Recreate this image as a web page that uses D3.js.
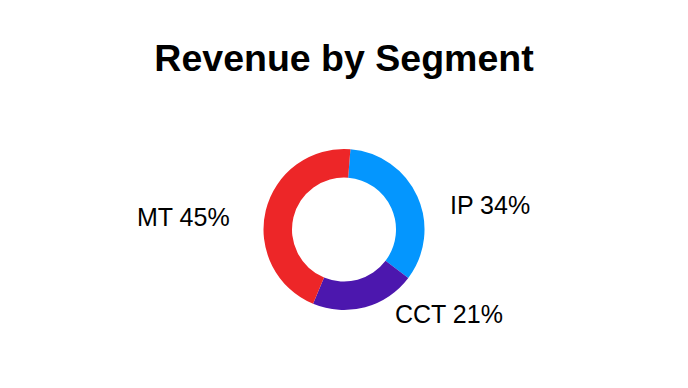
<!DOCTYPE html>
<html>
<head>
<meta charset="utf-8">
<script src="https://cdn.jsdelivr.net/npm/d3@7"></script>
<style>
  body { margin: 0; background: #fff; }
  svg { display: block; font-family: "Liberation Sans", Arial, sans-serif; }
</style>
</head>
<body>
<svg width="688" height="388"></svg>
<script>
const segments = ["IP", "CCT", "MT"]
const shares = [34, 21, 45]
const colours = ["#0496fe", "#4c17ae", "#ed2628"]
const title = "Revenue by Segment"

const svg = d3.select("svg")
const cx = 344, cy = 229.5
const outerR = 80.5, innerR = 52

svg.append("text")
    .attr("x", 344)
    .attr("y", 71)
    .attr("text-anchor", "middle")
    .attr("font-size", 37.5)
    .attr("font-weight", "bold")
    .attr("fill", "#000")
    .text(title)

const data = segments.map((s, i) => ({name: s, value: shares[i], colour: colours[i]}))

// starts a little past twelve o'clock, clockwise
const offset = 0.08
const pie = d3.pie()
    .value(d => d.value)
    .sort(null)
    .startAngle(offset)
    .endAngle(offset + 2 * Math.PI)

const arc = d3.arc().innerRadius(innerR).outerRadius(outerR)

const g = svg.append("g").attr("transform", `translate(${cx},${cy})`)

g.selectAll("path")
    .data(pie(data))
    .join("path")
    .attr("d", arc)
    .attr("fill", d => d.data.colour)

// label positions next to each slice
const labelPos = {
    IP: [450, 214, "start"],
    CCT: [395, 323, "start"],
    MT: [137, 226, "start"]
}

svg.selectAll("text.lbl")
    .data(data)
    .join("text")
    .attr("class", "lbl")
    .attr("x", d => labelPos[d.name][0])
    .attr("y", d => labelPos[d.name][1])
    .attr("text-anchor", d => labelPos[d.name][2])
    .attr("font-size", 25)
    .attr("fill", "#000")
    .text(d => `${d.name} ${d.value}%`)
</script>
</body>
</html>
